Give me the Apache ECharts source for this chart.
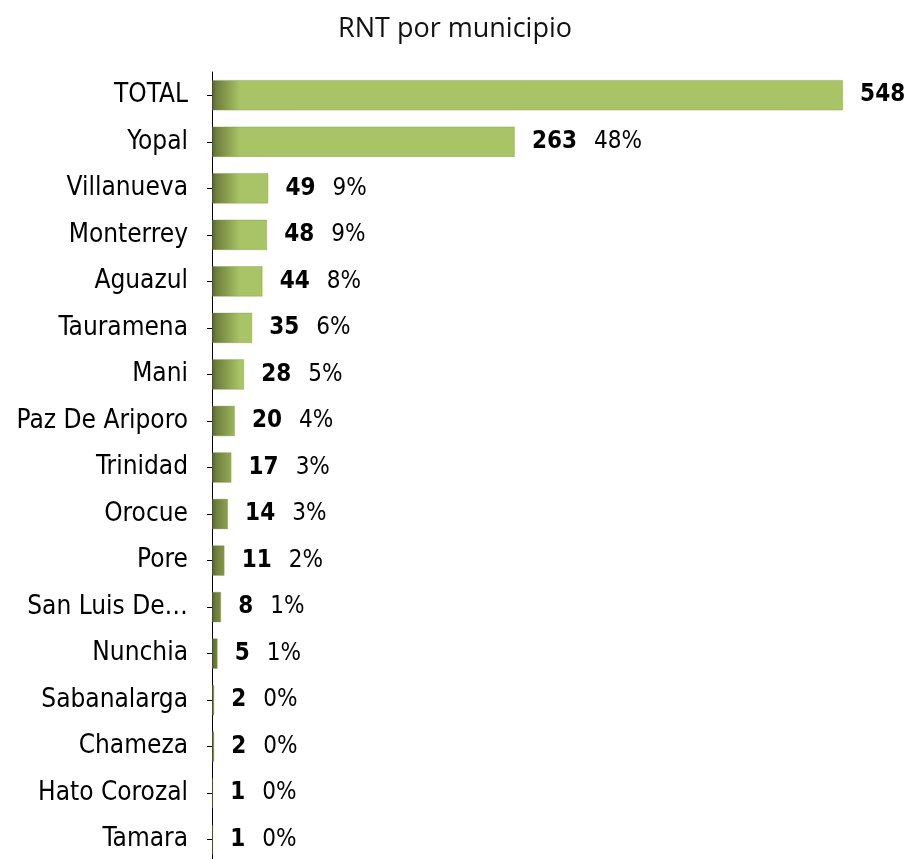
<!DOCTYPE html>
<html>
<head>
<meta charset="utf-8">
<script src="https://cdn.jsdelivr.net/npm/echarts@6/dist/echarts.min.js"></script>
<style>
  html, body { margin: 0; padding: 0; background: #fff; }
  #chart { width: 910px; height: 859px; }
</style>
</head>
<body>
<div id="chart"></div>
<script>
'use strict';

// municipios, de arriba hacia abajo
var municipios = ['TOTAL', 'Yopal', 'Villanueva', 'Monterrey', 'Aguazul', 'Tauramena', 'Mani',
    'Paz De Ariporo', 'Trinidad', 'Orocue', 'Pore', 'San Luis De Palenque', 'Nunchia',
    'Sabanalarga', 'Chameza', 'Hato Corozal', 'Tamara'];
var registros = [548, 263, 49, 48, 44, 35, 28, 20, 17, 14, 11, 8, 5, 2, 2, 1, 1];
var porcentajes = ['', '48%', '9%', '9%', '8%', '6%', '5%', '4%', '3%', '3%', '2%', '1%', '1%',
    '0%', '0%', '0%', '0%'];

var chart = echarts.init(document.getElementById('chart'));

var fuente = '"DejaVu Sans Condensed", "DejaVu Sans", sans-serif';

// oscuro a la izquierda, como el relieve de Excel
var barColor = new echarts.graphic.LinearGradient(212, 0, 240, 0, [
    {offset: 0, color: '#56632f'},
    {offset: 0.15, color: '#6f7f3c'},
    {offset: 1, color: '#a9c467'}
], true);

var option = {
    animation: false,
    title: {
        text: 'RNT por municipio',
        left: 'center',
        top: 11,
        textStyle: {
            fontFamily: 'Open Sans',
            fontWeight: 'normal',
            fontSize: 27,
            color: '#111'
        }
    },
    grid: {
        left: 212,
        top: 72,
        width: 691,
        height: 791,
        containLabel: false,
        outerBoundsMode: 'none'
    },
    xAxis: {
        type: 'value',
        min: 0,
        max: 600,
        show: false
    },
    yAxis: {
        type: 'category',
        inverse: true,
        data: municipios,
        axisLine: { show: true, lineStyle: { color: '#000', width: 1 } },
        axisTick: { show: true, alignWithLabel: true, length: 5, lineStyle: { color: '#000', width: 1 } },
        axisLabel: {
            margin: 24,
            fontFamily: fuente,
            fontSize: 26,
            color: '#000',
            formatter: function (v) {
                return v.length > 15 ? v.slice(0, 11) + '…' : v;
            }
        }
    },
    series: [{
        type: 'bar',
        data: registros,
        barCategoryGap: '34%',
        itemStyle: {
            color: barColor,
            borderColor: 'rgba(120,140,70,0.35)',
            borderWidth: 1
        },
        label: {
            show: true,
            position: 'right',
            distance: 17,
            formatter: function (p) {
                var pc = porcentajes[p.dataIndex];
                return '{b|' + p.value + '}' + (pc ? '{p|' + pc + '}' : '');
            },
            rich: {
                b: { fontFamily: fuente, fontWeight: 'bold', fontSize: 24, color: '#000' },
                p: { fontFamily: fuente, fontSize: 24, color: '#000', padding: [0, 0, 0, 17] }
            }
        }
    }]
};

chart.setOption(option);
</script>
</body>
</html>
